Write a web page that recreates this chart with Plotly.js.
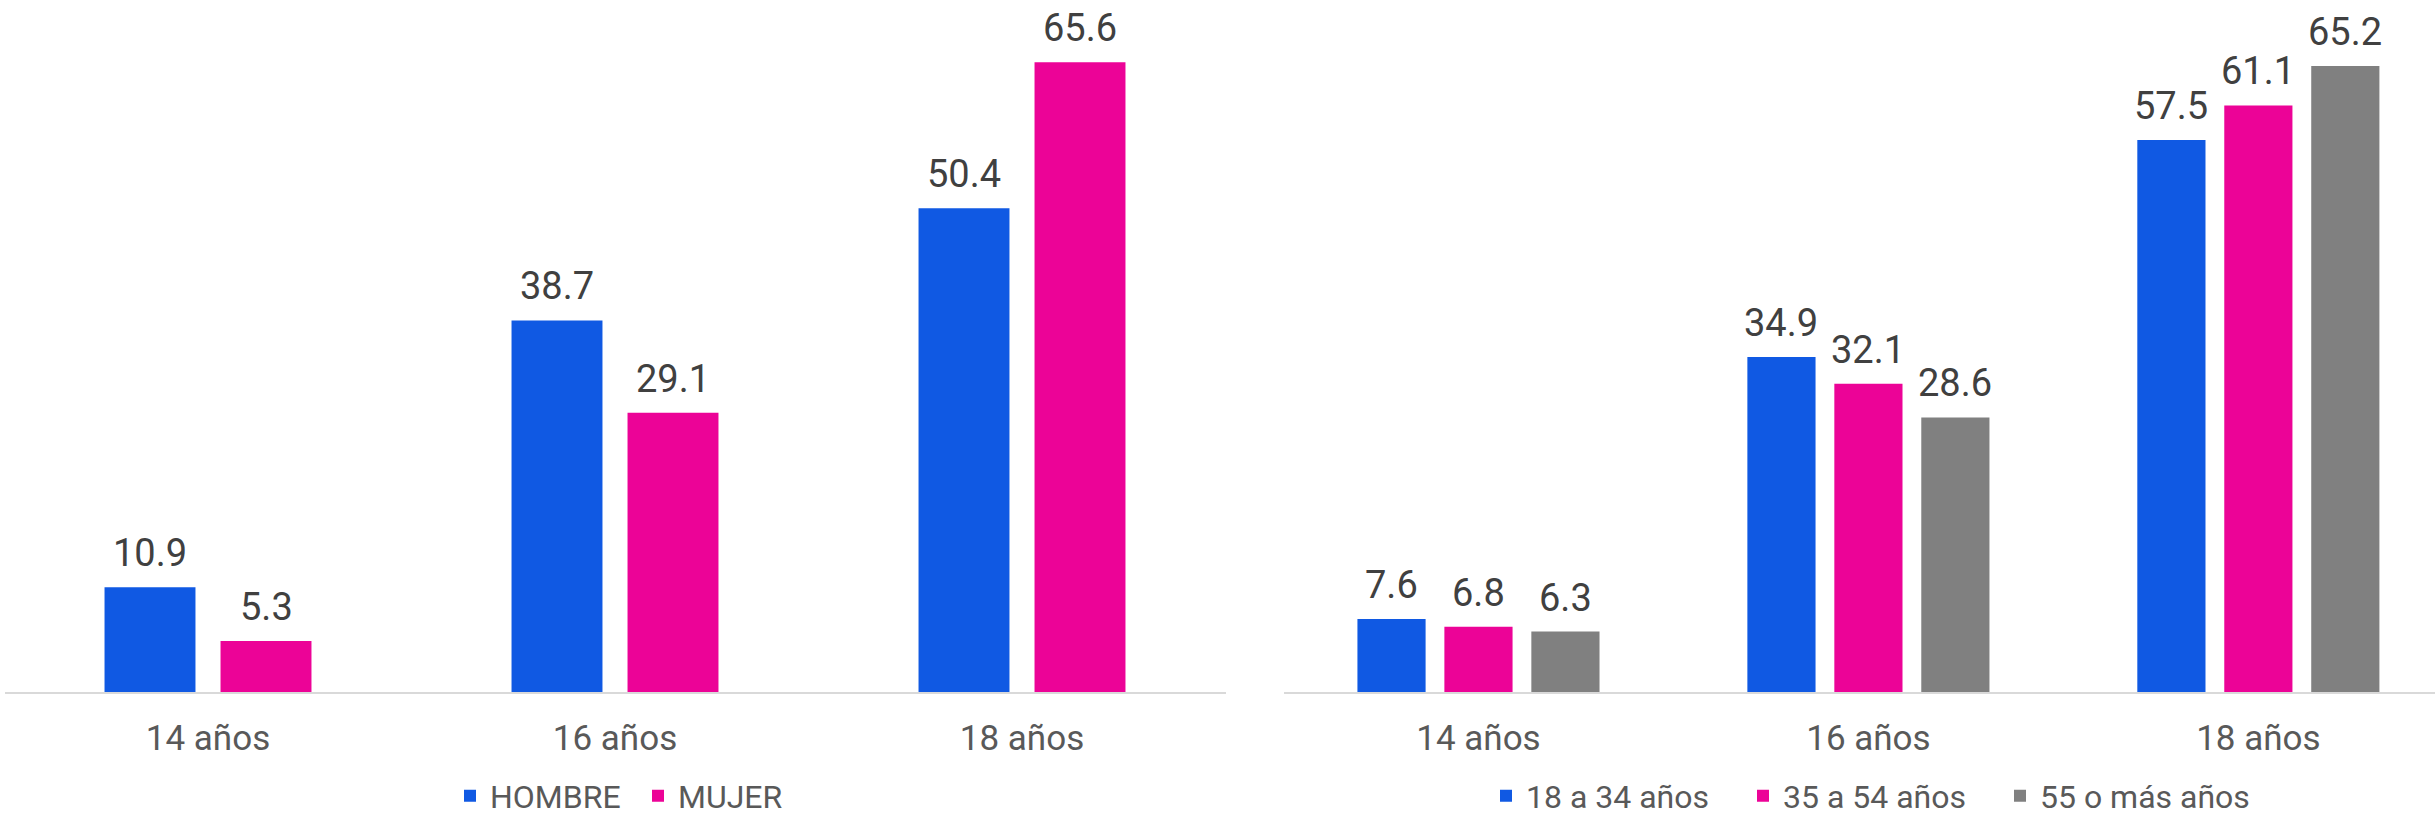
<!DOCTYPE html>
<html>
<head>
<meta charset="utf-8">
<script src="https://cdn.plot.ly/plotly-3.0.1.min.js"></script>
<style>html,body{margin:0;padding:0;background:#fff;}#chart{width:2435px;height:817px;}</style>
</head>
<body>
<div id="chart"></div>
<script>
// ---- Data ----
const categories = ['14 años', '16 años', '18 años'];
const sexNames = ['HOMBRE', 'MUJER'];
const hombre = [10.9, 38.7, 50.4];
const mujer = [5.3, 29.1, 65.6];
const ageNames = ['18 a 34 años', '35 a 54 años', '55 o más años'];
const edad18a34 = [7.6, 34.9, 57.5];
const edad35a54 = [6.8, 32.1, 61.1];
const edad55mas = [6.3, 28.6, 65.2];

// ---- Styles ----
const BLUE = '#1059E3';
const PINK = '#EC0397';
const GRAY = '#808080';
const FONT = 'Roboto, "Open Sans", Arial, sans-serif';
const LEFT_GAP = 0.43, RIGHT_GAP = 0.331, GROUP_GAP = 0.216;

const leftSeries = [[sexNames[0], hombre, BLUE], [sexNames[1], mujer, PINK]];
const rightSeries = [[ageNames[0], edad18a34, BLUE], [ageNames[1], edad35a54, PINK], [ageNames[2], edad55mas, GRAY]];

const traces = [];
const annotations = [];
function addGroup(series, xa, ya, legendId, gap, explicitWidth) {
  const n = series.length;
  const slot = (1 - gap) / n;
  series.forEach((s, i) => {
    const off = (i - (n - 1) / 2) * slot;
    const t = {
      type: 'bar', name: s[0], x: categories, y: s[1],
      xaxis: xa, yaxis: ya, legend: legendId,
      marker: {color: s[2]}, hoverinfo: 'skip'
    };
    if (explicitWidth) {
      t.width = slot * (1 - GROUP_GAP);
      t.offset = off - t.width / 2;
    }
    traces.push(t);
    s[1].forEach((v, k) => {
      annotations.push({
        xref: xa, yref: ya, x: k + off, y: v, text: v.toFixed(1),
        showarrow: false, yanchor: 'bottom', xanchor: 'center', yshift: 10,
        font: {family: FONT, size: 38, color: '#404040'}
      });
    });
  });
}
addGroup(leftSeries, 'x', 'y', 'legend', LEFT_GAP, false);
addGroup(rightSeries, 'x2', 'y2', 'legend2', RIGHT_GAP, true);

const W = 2435, H = 817;
const xCommon = {
  type: 'category', showline: true, linecolor: '#d9d9d9', linewidth: 2,
  ticks: '', showgrid: false, zeroline: false, ticklabelstandoff: 14,
  tickfont: {family: FONT, size: 35, color: '#595959'}
};
const yCommon = {range: [0, 72.08], showgrid: false, zeroline: false, showticklabels: false, showline: false};
const legendCommon = {
  orientation: 'h', xref: 'container', yref: 'container', xanchor: 'left', yanchor: 'middle',
  font: {family: FONT, size: 32, color: '#595959'}, itemwidth: 30, traceorder: 'normal',
  bgcolor: 'rgba(0,0,0,0)', entrywidthmode: 'pixels'
};

const layout = {
  width: W, height: H,
  margin: {l: 0, r: 0, t: 0, b: 125, pad: 0},
  paper_bgcolor: '#fff', plot_bgcolor: '#fff',
  showlegend: true,
  bargap: LEFT_GAP, bargroupgap: GROUP_GAP,
  xaxis: Object.assign({}, xCommon, {domain: [4.5 / W, 1225.5 / W], range: [-0.5, 2.5], anchor: 'y'}),
  yaxis: Object.assign({}, yCommon, {anchor: 'x'}),
  xaxis2: Object.assign({}, xCommon, {domain: [1283.5 / W, 1], range: [-0.5, 2.453], anchor: 'y2'}),
  yaxis2: Object.assign({}, yCommon, {anchor: 'x2'}),
  legend: Object.assign({}, legendCommon, {x: 450 / W, y: 21 / H, entrywidth: 143}),
  legend2: Object.assign({}, legendCommon, {x: 1486 / W, y: 21 / H, entrywidth: 212}),
  annotations: annotations
};

Plotly.newPlot('chart', traces, layout, {displayModeBar: false, staticPlot: true});
</script>
</body>
</html>
